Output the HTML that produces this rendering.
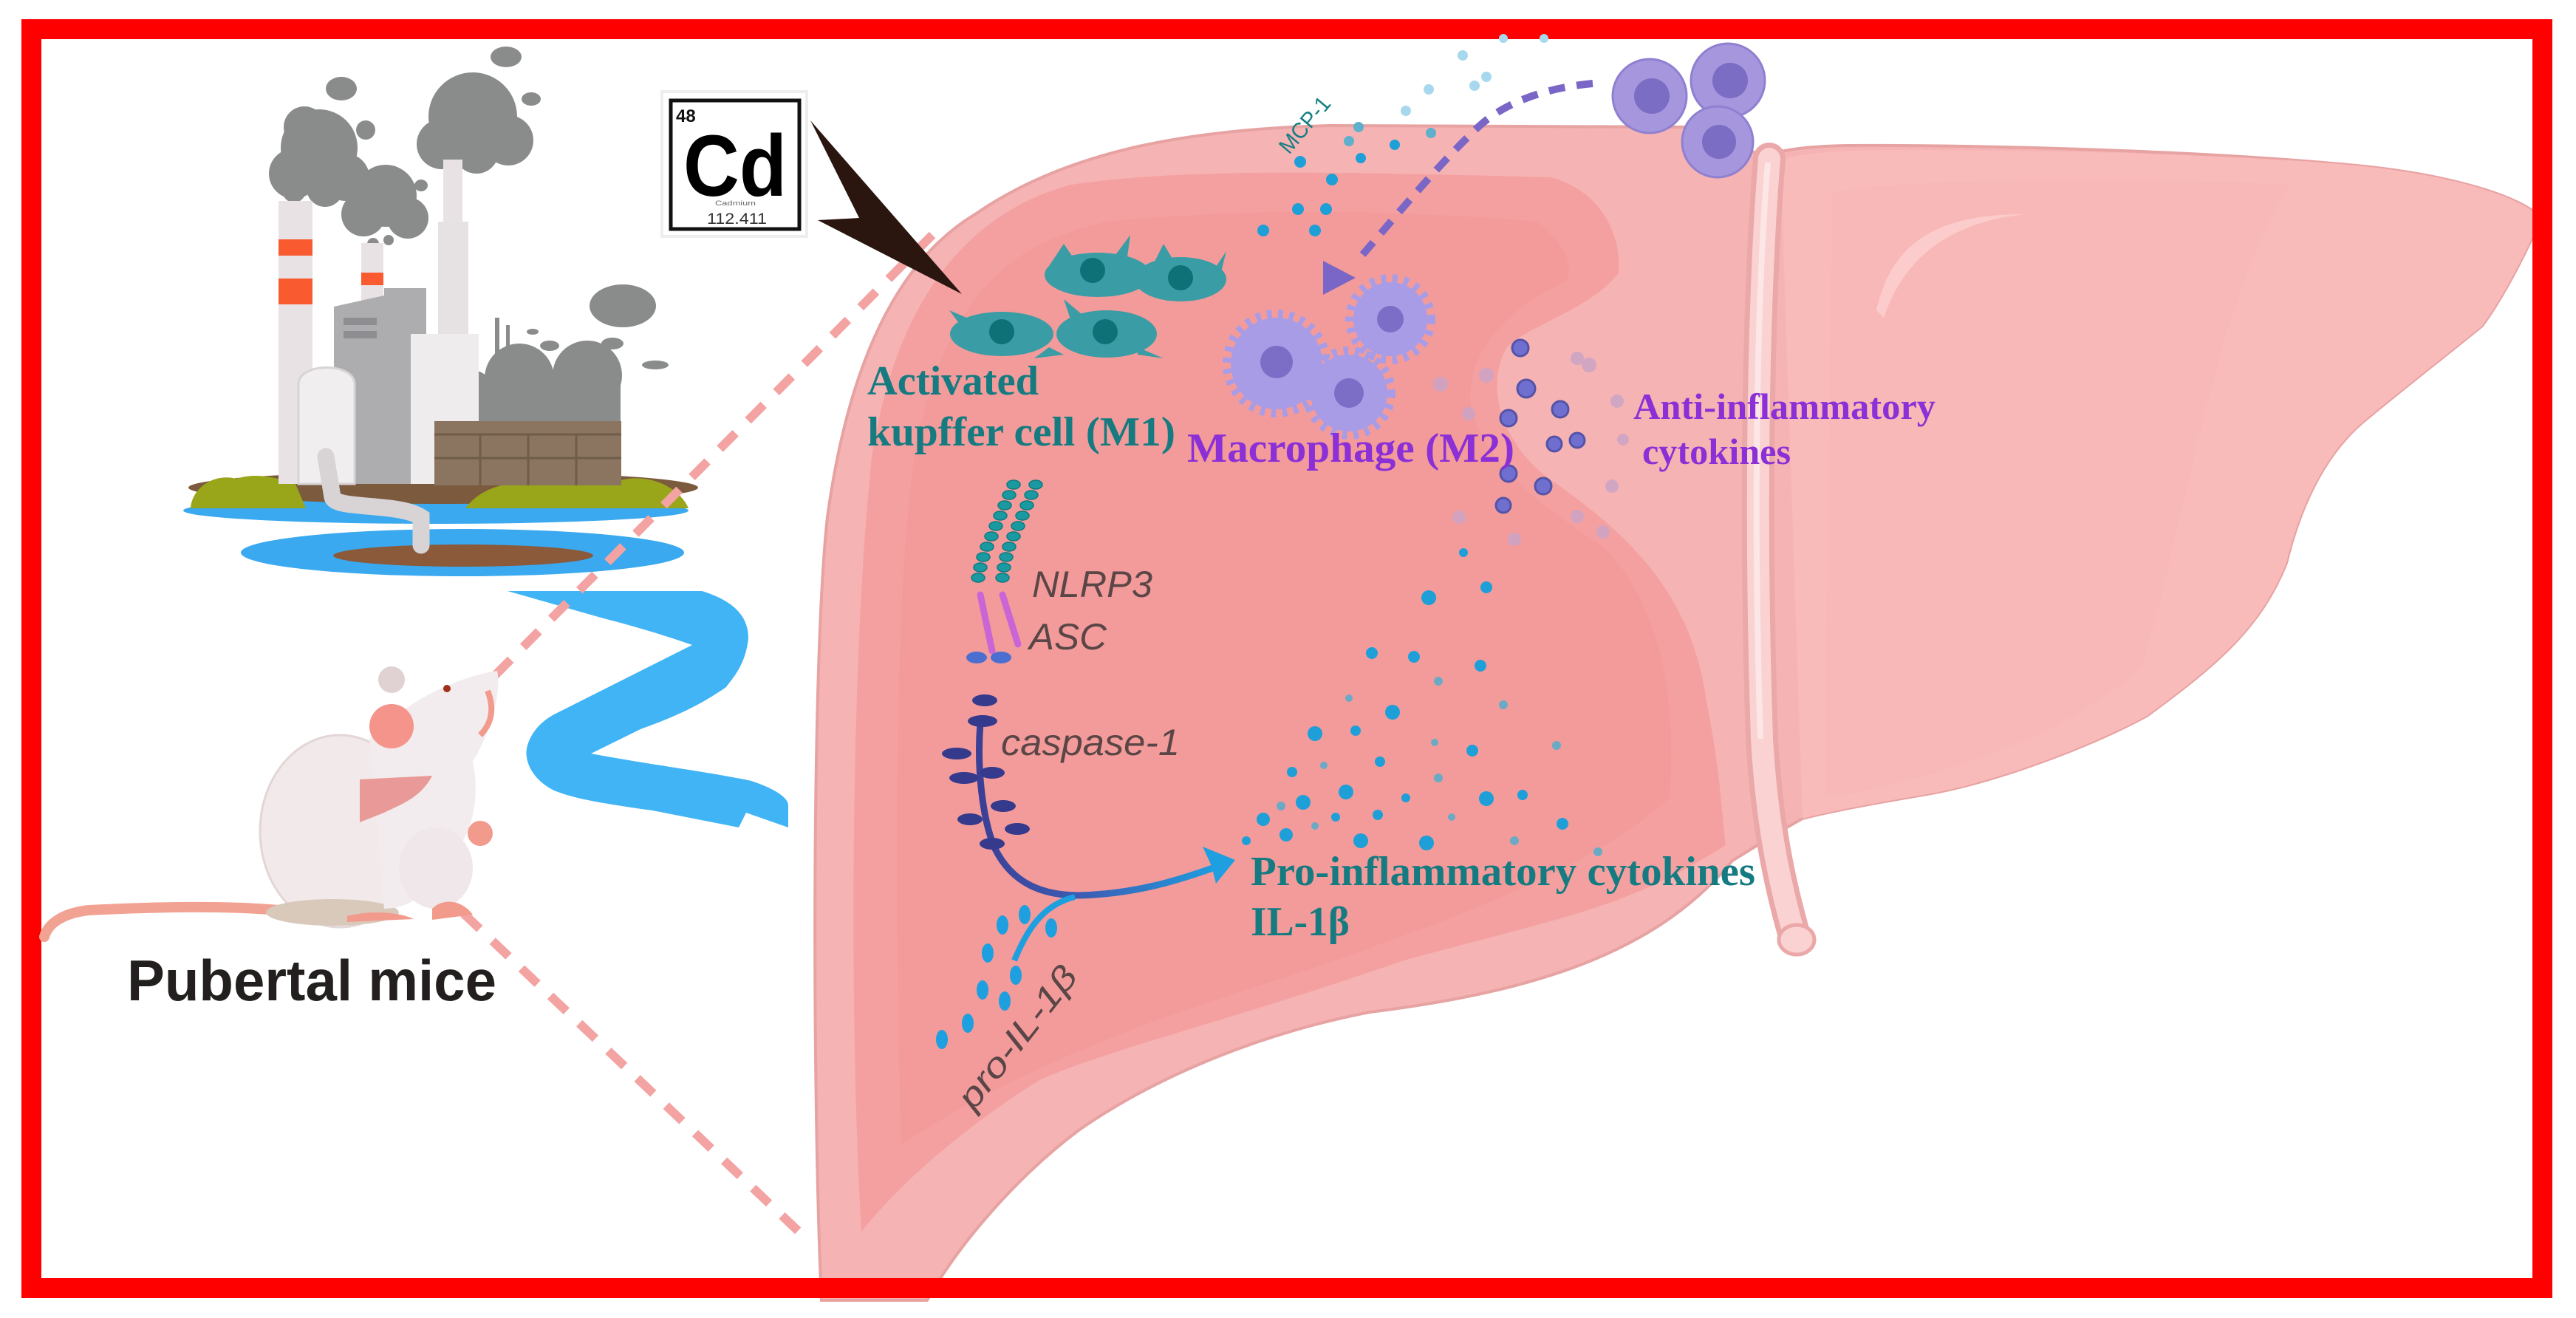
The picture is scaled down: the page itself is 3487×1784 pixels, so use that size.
<!DOCTYPE html>
<html><head><meta charset="utf-8"><style>
html,body{margin:0;padding:0;background:#fff;}
svg{display:block;}
</style></head><body>
<svg width="3487" height="1784" viewBox="0 0 3487 1784" xmlns="http://www.w3.org/2000/svg">
<defs>
<linearGradient id="arr" x1="0" y1="0" x2="1" y2="0">
<stop offset="0" stop-color="#3b3f95"/><stop offset="0.45" stop-color="#3b5fb5"/><stop offset="1" stop-color="#1e9fe0"/>
</linearGradient>
</defs>
<rect width="3487" height="1784" fill="#fff"/>

<!-- LIVER -->
<path d="M1112,1760 C1100,1500 1098,900 1120,700 C1150,480 1220,350 1320,290 C1450,200 1620,175 1800,170 L2300,172 C2340,178 2360,200 2385,212 C2420,200 2460,198 2500,197 C2700,196 3000,205 3200,225 C3320,238 3410,265 3440,295 C3420,340 3390,400 3360,441 C3300,490 3260,520 3200,570 C3140,620 3110,700 3095,762 C3060,850 3000,900 2906,969 C2830,1010 2700,1060 2603,1076 C2520,1090 2470,1100 2440,1108 C2400,1130 2370,1150 2345,1165 C2250,1280 2100,1340 1854,1370 C1700,1400 1560,1460 1460,1530 C1380,1590 1300,1680 1255,1760 Z" fill="#f6b3b3" stroke="#e7a2a2" stroke-width="4"/>
<path d="M2410,215 C2460,205 2500,203 2560,203 C2800,203 3050,210 3200,225 C3320,238 3410,265 3440,295 C3420,340 3390,400 3360,441 C3300,490 3260,520 3200,570 C3140,620 3110,700 3095,762 C3060,850 3000,900 2906,969 C2830,1010 2700,1060 2603,1076 C2520,1090 2470,1100 2440,1108 Z" fill="#f9baba"/>
<path d="M2480,260 C2600,240 2900,240 3100,250 C3000,400 2960,700 2900,900 C2800,1000 2600,1060 2470,1080 Z" fill="#f8b5b5" opacity="0.5"/>
<path d="M2540,420 C2560,330 2620,290 2740,290 C2650,300 2580,340 2550,430 Z" fill="#fccccc"/>
<path d="M1166,1667 C1150,1400 1150,900 1180,620 C1210,420 1300,290 1450,250 C1600,228 1800,232 2100,240 C2170,260 2195,320 2191,370 C2150,420 2070,440 2040,470 C2010,520 2030,600 2100,650 C2200,720 2290,800 2310,950 C2330,1050 2330,1100 2336,1144 C2200,1230 2121,1240 1900,1300 C1675,1379 1500,1420 1407,1462 C1300,1530 1220,1600 1166,1667 Z" fill="#f4a0a0"/>
<path d="M1220,1550 C1210,1200 1210,800 1240,600 C1280,420 1350,330 1500,300 C1700,280 1900,285 2080,300 C2120,330 2130,360 2120,380 C2040,420 1990,470 1990,540 C2000,620 2080,680 2170,740 C2250,820 2270,950 2260,1080 C2150,1180 1950,1250 1750,1320 C1550,1380 1350,1460 1220,1550 Z" fill="#f29999" opacity="0.7"/>
<path d="M2395,215 C2380,400 2375,700 2385,1000 C2392,1120 2410,1200 2430,1270" fill="none" stroke="#eaa8a8" stroke-width="44" stroke-linecap="round"/>
<path d="M2395,215 C2380,400 2375,700 2385,1000 C2392,1120 2410,1200 2430,1270" fill="none" stroke="#fbd2d2" stroke-width="30" stroke-linecap="round"/>
<path d="M2393,220 C2378,400 2373,700 2383,1000" fill="none" stroke="#fde6e6" stroke-width="8"/>
<ellipse cx="2432" cy="1272" rx="24" ry="20" fill="#fbd2d2" stroke="#eaa8a8" stroke-width="5"/>

<rect x="42.5" y="39.5" width="3399" height="1704" fill="none" stroke="#ff0000" stroke-width="27"/>

<!-- FACTORY -->
<g>
<ellipse cx="590" cy="691" rx="342" ry="18" fill="#3aa9f0"/>
<ellipse cx="626" cy="748" rx="300" ry="32" fill="#3aa9f0"/>
<ellipse cx="627" cy="752" rx="176" ry="15" fill="#8a5a3a"/>
<ellipse cx="600" cy="660" rx="345" ry="22" fill="#7b5a3e"/>
<path d="M258,688 C260,660 290,640 320,648 C345,640 370,645 400,655 L414,688 Z" fill="#9aa61a"/>
<path d="M630,688 C650,660 690,650 720,655 C760,630 800,650 840,650 C880,640 920,660 932,688 Z" fill="#9aa61a"/>
<g fill="#8a8c8c">
<circle cx="432" cy="200" r="52"/><circle cx="398" cy="235" r="34"/><circle cx="468" cy="240" r="32"/><circle cx="412" cy="172" r="28"/><circle cx="440" cy="255" r="25"/>
<ellipse cx="462" cy="120" rx="21" ry="16"/><circle cx="495" cy="176" r="13"/><circle cx="398" cy="258" r="16"/>
<circle cx="522" cy="265" r="42"/><circle cx="492" cy="290" r="30"/><circle cx="552" cy="295" r="28"/><ellipse cx="570" cy="251" rx="9" ry="8"/><circle cx="505" cy="330" r="8"/><circle cx="526" cy="325" r="7"/>
<circle cx="640" cy="158" r="60"/><circle cx="598" cy="195" r="34"/><circle cx="688" cy="190" r="34"/><circle cx="645" cy="205" r="30"/><ellipse cx="685" cy="77" rx="21" ry="14"/><ellipse cx="719" cy="134" rx="13" ry="9"/>
<ellipse cx="843" cy="414" rx="45" ry="29"/><ellipse cx="829" cy="465" rx="15" ry="8"/><ellipse cx="887" cy="494" rx="18" ry="6"/><ellipse cx="744" cy="468" rx="13" ry="7"/><ellipse cx="721" cy="449" rx="8" ry="4"/><ellipse cx="620" cy="480" rx="12" ry="6"/>
<circle cx="634" cy="540" r="40"/><circle cx="703" cy="512" r="47"/><circle cx="795" cy="508" r="47"/><rect x="600" y="520" width="240" height="55"/>
</g>
<rect x="377" y="272" width="46" height="383" fill="#e8e2e4"/>
<rect x="377" y="324" width="46" height="22" fill="#fa5a30"/>
<rect x="377" y="377" width="46" height="35" fill="#fa5a30"/>
<rect x="489" y="329" width="30" height="108" fill="#e8e2e4"/>
<rect x="489" y="369" width="30" height="17" fill="#fa5a30"/>
<rect x="600" y="216" width="26" height="90" fill="#e8e2e4"/>
<rect x="593" y="300" width="41" height="155" fill="#e6e1e3"/>
<polygon points="452,415 520,400 520,390 577,390 577,655 452,655" fill="#adadb0"/>
<rect x="465" y="430" width="45" height="10" fill="#8e8e92"/><rect x="465" y="448" width="45" height="10" fill="#8e8e92"/>
<rect x="556" y="452" width="92" height="203" fill="#efecee"/>
<path d="M404,655 L404,520 C404,490 480,490 480,520 L480,655 Z" fill="#f1eef0" stroke="#d8d4d6" stroke-width="3"/>
<rect x="588" y="570" width="253" height="87" fill="#8b7560"/>
<g stroke="#6f5c49" stroke-width="3"><line x1="588" y1="588" x2="841" y2="588"/><line x1="588" y1="620" x2="841" y2="620"/><line x1="650" y1="588" x2="650" y2="657"/><line x1="715" y1="588" x2="715" y2="657"/><line x1="780" y1="588" x2="780" y2="657"/></g>
<path d="M441,618 L450,673 C455,690 540,680 570,700 L570,738" fill="none" stroke="#d8d4d6" stroke-width="23" stroke-linecap="round"/>
<rect x="670" y="430" width="6" height="100" fill="#8a8c8c"/><rect x="685" y="440" width="5" height="90" fill="#8a8c8c"/>
</g>

<path d="M687,800 L950,800 C1000,815 1013,840 1013,863 C1010,900 990,920 983,930 C940,960 900,975 867,987 L800,1020 C880,1035 960,1045 1017,1057 C1050,1068 1067,1080 1067,1090 L1067,1120 L1010,1100 L1000,1120 L883,1097 C820,1088 780,1082 750,1070 C720,1055 710,1030 713,1013 C718,990 735,975 750,967 L937,873 C900,860 860,848 817,837 Z" fill="#40b4f5"/>

<g stroke="#f4a3a3" stroke-width="12" stroke-dasharray="30 24" fill="none">
<line x1="1262" y1="318" x2="560" y2="1025"/>
<line x1="510" y1="1125" x2="1095" y2="1680"/>
</g>

<!-- MOUSE -->
<g>
<path d="M377,1232 C300,1225 200,1228 120,1232 C85,1236 65,1250 60,1268" fill="none" stroke="#f2a292" stroke-width="14" stroke-linecap="round"/>
<ellipse cx="460" cy="1125" rx="108" ry="130" fill="#f1e9ea" stroke="#e2d6d6" stroke-width="3"/>
<ellipse cx="450" cy="1235" rx="90" ry="18" fill="#d9c9bb"/>
<path d="M500,1000 C540,960 600,920 673,908 C680,940 660,1000 640,1030 C650,1080 640,1130 610,1160 C590,1200 560,1230 520,1230 Z" fill="#f3ecee"/>
<ellipse cx="590" cy="1175" rx="50" ry="55" fill="#f0e7ea"/>
<path d="M487,1055 L585,1050 C570,1080 540,1090 520,1100 L487,1113 Z" fill="#e99a98"/>
<circle cx="530" cy="983" r="30" fill="#f4948a"/>
<circle cx="530" cy="920" r="18" fill="#e0d2d2"/>
<circle cx="605" cy="932" r="5" fill="#a0301a"/>
<circle cx="650" cy="1128" r="17" fill="#f29a8c"/>
<path d="M585,1230 C600,1215 625,1218 640,1238 L585,1245 Z" fill="#f29a8c"/>
<path d="M470,1240 C500,1232 540,1234 560,1244 L470,1248 Z" fill="#f29a8c"/>
<path d="M660,935 C670,960 665,980 650,995" fill="none" stroke="#f29a8c" stroke-width="8"/>
</g>
<text x="172" y="1354" font-family="Liberation Sans, sans-serif" font-weight="bold" font-size="78" fill="#231f1f" textLength="500" lengthAdjust="spacingAndGlyphs">Pubertal mice</text>

<rect x="896" y="124" width="196" height="196" fill="#fff" stroke="#eee" stroke-width="4"/>
<rect x="908" y="136" width="174" height="174" fill="#fff" stroke="#111" stroke-width="5"/>
<text x="915" y="165" font-family="Liberation Sans, sans-serif" font-weight="bold" font-size="24" fill="#111">48</text>
<text x="925" y="265" font-family="Liberation Sans, sans-serif" font-weight="bold" font-size="118" fill="#000" textLength="140" lengthAdjust="spacingAndGlyphs">Cd</text>
<text x="968" y="278" font-family="Liberation Sans, sans-serif" font-size="9" fill="#666" textLength="55" lengthAdjust="spacingAndGlyphs">Cadmium</text>
<text x="957" y="303" font-family="Liberation Sans, sans-serif" font-size="21" fill="#333" textLength="81" lengthAdjust="spacingAndGlyphs">112.411</text>
<polygon points="1097,163 1302,398 1107,298 1163,295" fill="#2a150f"/>

<g fill="#1a9aa0" stroke="#0c7a80" stroke-width="1.5">
<ellipse cx="1372" cy="656" rx="9" ry="6"/><ellipse cx="1366" cy="670" rx="9" ry="6"/><ellipse cx="1360" cy="684" rx="9" ry="6"/><ellipse cx="1354" cy="698" rx="9" ry="6"/><ellipse cx="1348" cy="712" rx="9" ry="6"/><ellipse cx="1342" cy="726" rx="9" ry="6"/><ellipse cx="1336" cy="740" rx="9" ry="6"/><ellipse cx="1331" cy="754" rx="9" ry="6"/><ellipse cx="1327" cy="768" rx="9" ry="6"/><ellipse cx="1324" cy="782" rx="9" ry="6"/>
<ellipse cx="1402" cy="656" rx="9" ry="6"/><ellipse cx="1396" cy="670" rx="9" ry="6"/><ellipse cx="1390" cy="684" rx="9" ry="6"/><ellipse cx="1384" cy="698" rx="9" ry="6"/><ellipse cx="1378" cy="712" rx="9" ry="6"/><ellipse cx="1372" cy="726" rx="9" ry="6"/><ellipse cx="1366" cy="740" rx="9" ry="6"/><ellipse cx="1362" cy="754" rx="9" ry="6"/><ellipse cx="1359" cy="768" rx="9" ry="6"/><ellipse cx="1357" cy="782" rx="9" ry="6"/>
</g>
<g stroke="#c965d4" stroke-width="9" stroke-linecap="round"><line x1="1327" y1="805" x2="1343" y2="881"/><line x1="1357" y1="805" x2="1378" y2="872"/></g>
<ellipse cx="1322" cy="890" rx="14" ry="8" fill="#4a6fd0"/><ellipse cx="1355" cy="890" rx="14" ry="8" fill="#4a6fd0"/>
<g font-family="Liberation Sans, sans-serif" font-style="italic" fill="#5a4646" font-size="50">
<text x="1397" y="808" textLength="163" lengthAdjust="spacingAndGlyphs">NLRP3</text>
<text x="1393" y="879" textLength="105" lengthAdjust="spacingAndGlyphs">ASC</text>
<text x="1355" y="1022" textLength="242" lengthAdjust="spacingAndGlyphs">caspase-1</text>
<text transform="translate(1318,1505) rotate(-52)" textLength="232" lengthAdjust="spacingAndGlyphs" font-size="46">pro-IL-1β</text>
</g>
<path d="M1327,979 C1322,1040 1330,1110 1347,1149 C1370,1195 1410,1212 1460,1212 C1540,1210 1600,1190 1650,1172" fill="none" stroke="url(#arr)" stroke-width="9"/>
<path d="M1373,1300 C1390,1260 1410,1225 1455,1214" fill="none" stroke="#1e9fe0" stroke-width="8"/>
<polygon points="1672,1164 1628,1146 1640,1172 1646,1196" fill="#1e9fe0"/>
<g fill="#353a8c">
<ellipse cx="1333" cy="948" rx="17" ry="8"/><ellipse cx="1330" cy="976" rx="20" ry="8"/><ellipse cx="1295" cy="1020" rx="20" ry="8"/><ellipse cx="1305" cy="1053" rx="20" ry="8"/><ellipse cx="1343" cy="1046" rx="17" ry="8"/><ellipse cx="1358" cy="1091" rx="17" ry="8"/><ellipse cx="1313" cy="1109" rx="17" ry="8"/><ellipse cx="1377" cy="1122" rx="17" ry="8"/><ellipse cx="1343" cy="1142" rx="17" ry="8"/>
</g>
<g fill="#1e9fe0">
<ellipse cx="1357" cy="1252" rx="8" ry="13"/><ellipse cx="1387" cy="1238" rx="8" ry="13"/><ellipse cx="1423" cy="1256" rx="8" ry="13"/><ellipse cx="1337" cy="1290" rx="8" ry="13"/><ellipse cx="1375" cy="1320" rx="8" ry="13"/><ellipse cx="1330" cy="1340" rx="8" ry="13"/><ellipse cx="1360" cy="1355" rx="8" ry="13"/><ellipse cx="1310" cy="1385" rx="8" ry="13"/><ellipse cx="1275" cy="1407" rx="8" ry="13"/>
</g>

<g fill="#1e9fd8">
<circle cx="1934" cy="809" r="10"/><circle cx="2012" cy="795" r="8"/><circle cx="1981" cy="748" r="6"/><circle cx="1857" cy="884" r="8"/><circle cx="1914" cy="889" r="8"/><circle cx="2004" cy="901" r="8"/><circle cx="1885" cy="964" r="10"/><circle cx="1780" cy="993" r="10"/><circle cx="1835" cy="989" r="7"/><circle cx="1993" cy="1016" r="8"/><circle cx="1749" cy="1045" r="7"/><circle cx="1868" cy="1031" r="7"/><circle cx="1822" cy="1072" r="10"/><circle cx="2012" cy="1081" r="10"/><circle cx="2061" cy="1076" r="7"/><circle cx="1764" cy="1086" r="10"/><circle cx="1710" cy="1109" r="9"/><circle cx="1808" cy="1106" r="6"/><circle cx="1865" cy="1103" r="7"/><circle cx="2115" cy="1115" r="8"/><circle cx="1687" cy="1138" r="6"/><circle cx="1741" cy="1130" r="9"/><circle cx="1842" cy="1138" r="10"/><circle cx="1931" cy="1141" r="10"/><circle cx="1903" cy="1080" r="6"/>
</g>
<g fill="#6aaac4">
<circle cx="1947" cy="922" r="6"/><circle cx="2035" cy="954" r="6"/><circle cx="1826" cy="945" r="5"/><circle cx="2107" cy="1009" r="6"/><circle cx="1942" cy="1005" r="5"/><circle cx="1792" cy="1036" r="5"/><circle cx="1947" cy="1053" r="6"/><circle cx="1734" cy="1091" r="6"/><circle cx="1780" cy="1118" r="5"/><circle cx="1965" cy="1106" r="5"/><circle cx="2050" cy="1138" r="6"/><circle cx="2163" cy="1153" r="6"/>
</g>

<g fill="#1e9fd8">
<circle cx="1710" cy="312" r="8"/><circle cx="1757" cy="283" r="8"/><circle cx="1780" cy="312" r="8"/><circle cx="1795" cy="283" r="8"/><circle cx="1803" cy="243" r="8"/><circle cx="1842" cy="214" r="7"/><circle cx="1760" cy="219" r="8"/><circle cx="1888" cy="196" r="7"/>
</g>
<g fill="#5fb0cc"><circle cx="1826" cy="191" r="7"/><circle cx="1839" cy="172" r="7"/><circle cx="1937" cy="180" r="7"/></g>
<g fill="#a8d8ee"><circle cx="1903" cy="150" r="7"/><circle cx="1934" cy="121" r="7"/><circle cx="1996" cy="116" r="7"/><circle cx="2012" cy="104" r="7"/><circle cx="1980" cy="75" r="7"/><circle cx="2035" cy="52" r="6"/><circle cx="2090" cy="52" r="6"/></g>
<text transform="translate(1745,210) rotate(-50)" font-family="Liberation Sans, sans-serif" font-size="30" fill="#137f84" textLength="90" lengthAdjust="spacingAndGlyphs">MCP-1</text>

<path d="M2156,113 C2080,120 2030,145 2002,171 C1950,220 1900,280 1840,350" fill="none" stroke="#7a66c6" stroke-width="10" stroke-dasharray="22 16"/>
<polygon points="1791,353 1835,376 1791,399" fill="#7a66c6"/>

<g fill="#a596de" stroke="#8f80d0" stroke-width="3">
<circle cx="2233" cy="130" r="50"/><circle cx="2339" cy="109" r="50"/><circle cx="2325" cy="192" r="48"/>
</g>
<g fill="#7b6cc4"><circle cx="2236" cy="130" r="24"/><circle cx="2342" cy="109" r="24"/><circle cx="2327" cy="192" r="23"/></g>

<g fill="#3a9ca5">
<ellipse cx="1486" cy="372" rx="72" ry="30"/><ellipse cx="1598" cy="378" rx="62" ry="30"/><ellipse cx="1356" cy="452" rx="70" ry="30"/><ellipse cx="1498" cy="452" rx="68" ry="32"/>
<polygon points="1420,360 1440,330 1455,352"/><polygon points="1510,345 1530,318 1525,355"/><polygon points="1560,360 1575,330 1590,355"/><polygon points="1640,370 1660,340 1650,380"/><polygon points="1300,440 1285,420 1320,435"/><polygon points="1450,435 1440,405 1470,430"/><polygon points="1540,470 1575,485 1540,480"/><polygon points="1420,470 1440,480 1400,485"/>
</g>
<g fill="#0e7178"><circle cx="1479" cy="366" r="17"/><circle cx="1598" cy="376" r="17"/><circle cx="1356" cy="449" r="17"/><circle cx="1496" cy="449" r="17"/></g>

<g fill="#a99ce6" stroke="#a99ce6" stroke-width="22" stroke-dasharray="6 8">
<circle cx="1728" cy="492" r="62"/><circle cx="1882" cy="432" r="50"/><circle cx="1826" cy="532" r="52"/>
</g>
<g fill="#a99ce6"><circle cx="1728" cy="492" r="62"/><circle cx="1882" cy="432" r="50"/><circle cx="1826" cy="532" r="52"/></g>
<g fill="#7c6ec6"><circle cx="1728" cy="490" r="22"/><circle cx="1882" cy="432" r="18"/><circle cx="1826" cy="532" r="20"/></g>

<g fill="#6f6fcf" stroke="#5553a8" stroke-width="3">
<circle cx="2058" cy="471" r="11"/><circle cx="2066" cy="526" r="12"/><circle cx="2042" cy="566" r="11"/><circle cx="2112" cy="554" r="11"/><circle cx="2104" cy="601" r="10"/><circle cx="2135" cy="596" r="10"/><circle cx="2042" cy="641" r="11"/><circle cx="2089" cy="658" r="11"/><circle cx="2035" cy="684" r="10"/>
</g>
<g fill="#c9a4c8" opacity="0.8">
<circle cx="1950" cy="520" r="10"/><circle cx="2012" cy="508" r="10"/><circle cx="2151" cy="494" r="10"/><circle cx="1988" cy="560" r="9"/><circle cx="2189" cy="543" r="9"/><circle cx="2182" cy="658" r="9"/><circle cx="2170" cy="720" r="9"/><circle cx="2135" cy="699" r="9"/><circle cx="2197" cy="595" r="8"/><circle cx="1975" cy="700" r="9"/><circle cx="2050" cy="730" r="9"/><circle cx="2135" cy="485" r="9"/>
</g>

<g font-family="Liberation Serif, serif" font-weight="bold">
<text x="1174" y="534" font-size="56" fill="#157b80" textLength="232" lengthAdjust="spacingAndGlyphs">Activated</text>
<text x="1174" y="603" font-size="56" fill="#157b80" textLength="417" lengthAdjust="spacingAndGlyphs">kupffer cell (M1)</text>
<text x="1607" y="625" font-size="56" fill="#8b2fd6" textLength="443" lengthAdjust="spacingAndGlyphs">Macrophage (M2)</text>
<text x="2211" y="567" font-size="50" fill="#8b2fd6" textLength="409" lengthAdjust="spacingAndGlyphs">Anti-inflammatory</text>
<text x="2223" y="628" font-size="50" fill="#8b2fd6" textLength="201" lengthAdjust="spacingAndGlyphs">cytokines</text>
<text x="1693" y="1198" font-size="56" fill="#157b80" textLength="683" lengthAdjust="spacingAndGlyphs">Pro-inflammatory cytokines</text>
<text x="1693" y="1266" font-size="56" fill="#157b80" textLength="134" lengthAdjust="spacingAndGlyphs">IL-1β</text>
</g>
</svg>
</body></html>
